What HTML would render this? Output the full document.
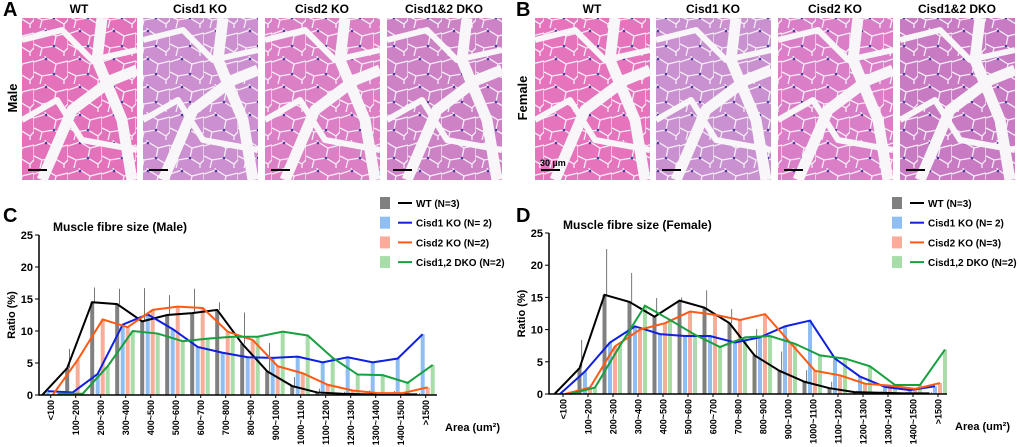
<!DOCTYPE html>
<html><head><meta charset="utf-8"><style>
body{margin:0;background:#fff;font-family:"Liberation Sans",sans-serif}
svg{display:block}
text{font-family:"Liberation Sans",sans-serif;font-weight:bold}
</style></head><body>
<svg id="fig" width="1020" height="447" viewBox="0 0 1020 447" xmlns="http://www.w3.org/2000/svg">
<defs>
<pattern id="cells" patternUnits="userSpaceOnUse" width="34" height="28">
<path d="M0,6 L12,2 L22,8 L34,5 M12,2 L10,-2 M22,8 L20,18 L30,24 L34,20 M20,18 L8,20 L0,16 M8,20 L6,28 M30,24 L30,28 M34,5 L34,20" fill="none" stroke="#f4eef6" stroke-width="1.3"/>
<circle cx="12" cy="3" r="1.3" fill="#4a3aa0"/><circle cx="20" cy="18" r="1.3" fill="#4a3aa0"/>
</pattern>
</defs>
<text x="3" y="16" font-size="20">A</text>
<text x="516" y="16" font-size="20">B</text>
<text x="3" y="222" font-size="20">C</text>
<text x="516" y="222" font-size="20">D</text>
<text transform="translate(17,98) rotate(-90)" text-anchor="middle" font-size="13">Male</text>
<text transform="translate(527,98) rotate(-90)" text-anchor="middle" font-size="13">Female</text>
<g id="imgs"></g>
<g id="chartC"></g>
<g id="chartD"></g>
</svg>
<script>
const categories=["<100","100~200","200~300","300~400","400~500","500~600","600~700","700~800","800~900","900~1000","1000~1100","1100~1200","1200~1300","1300~1400","1400~1500",">1500"];
const maleWT=[0,4.2,14.5,14.2,11.5,12.5,12.8,13.3,8,3.7,1.4,0.4,0.2,0.1,0.1,0.1];
const maleC1=[0.6,0.4,3.3,11,12.6,10.3,7.5,6.6,5.9,5.8,6,5.1,5.9,5.1,5.7,9.5];
const maleC2=[0,5.5,11.8,10.6,13.3,13.8,13.6,9.9,8.6,4.5,3.4,1.6,0.7,0.3,0.3,1.2];
const maleDKO=[0.2,0.2,4.5,10,9.6,8.4,8.8,9.1,9.1,9.9,9.3,5.8,3.2,3.1,1.9,4.7];
const maleWTerr=[0.3,7.2,16.8,16.6,16.7,15.6,16.6,14.5,12.9,8.1,2.8,1,0.5,0.7,0.6,0.3];
const femWT=[0,4,15.4,14.3,12,14.5,13.4,11,6,3.6,1.9,0.9,0.3,0.2,0.1,0.1];
const femC1=[0,3.5,8,10.5,9.3,9,9,8,8.8,10.5,11.4,5.5,2.7,1.1,0.6,1.2];
const femC2=[0,1,7.4,10,11,12.8,12.3,11.5,12.4,8,3.6,2.9,1.6,1.3,0.8,1.7];
const femDKO=[0,1,7.5,13.7,11.5,9.2,7.3,8.8,9,7.8,6,5.5,4.3,1.4,1.4,6.9];
const femWTerr=[0.3,8.4,22.5,18.8,14.9,15,16.1,13.2,10.1,6.6,3.7,1.9,0.5,0.4,0.3,0.3];
const yTicks=[0,5,10,15,20,25];
const NS="http://www.w3.org/2000/svg";
function mk(tag,attrs,parent,txt){const e=document.createElementNS(NS,tag);for(const k in attrs)e.setAttribute(k,attrs[k]);if(txt!==undefined)e.textContent=txt;parent.appendChild(e);return e;}
function svgRoot(){return document.getElementById('fig');}

const panels=[[22,"WT"],[143,"Cisd1 KO"],[265,"Cisd2 KO"],[387,"Cisd1&2 DKO"],[535,"WT"],[656,"Cisd1 KO"],[778,"Cisd2 KO"],[900,"Cisd1&2 DKO"]];
const fills=["#e372bb","#cc8fcf","#dc80c6","#cd82c6","#e674bd","#c991cf","#da7fc7","#c87bc3"];
const imgs=document.getElementById('imgs');
panels.forEach((p,i)=>{
  const g=mk('g',{},imgs);
  
  
  mk('rect',{x:p[0],y:18,width:115,height:162,fill:fills[i]},g);
  mk('rect',{x:p[0],y:18,width:115,height:162,fill:'url(#cells)'},g);
  const x=p[0];
  const cracks=[[[x,40],[x+40,30],[x+70,60],[x+115,50]],[[x+20,180],[x+50,110],[x+90,80],[x+115,70]],[[x,120],[x+35,100],[x+60,140],[x+115,150]],[[x+80,18],[x+75,60],[x+100,120],[x+110,180]]];
  cracks.forEach((c,j)=>mk('polyline',{points:c.map(q=>q.join(',')).join(' '),fill:'none',stroke:'#f8f6f8','stroke-width':(j%2?11:6),'stroke-linejoin':'round'},g));
  mk('line',{x1:x+6,y1:170,x2:x+25,y2:170,stroke:'#000','stroke-width':2},g);
  const t=mk('text',{x:x+57,y:13,'text-anchor':'middle','font-size':12},svgRoot());
  t.textContent=p[1];
  
  
});
const sb=mk('text',{x:540,y:166,'font-size':9,'font-weight':'normal'},imgs,"30 µm");



function chart(gid,ox,y0,y25,firstTick,title,series,err,legend){
  const g=document.getElementById(gid);
  const ys=v=>y0-(v/25)*(y0-y25);
  const xs=i=>firstTick+i*25;
  const offs=[-8.5,-3,2,7];
  const barCol=["#808080","#8fbff2","#f7ad9a","#a8dca8"];
  const lineCol=["#000","#1020e0","#ff5a14","#18a040"];
  series.forEach((s,k)=>{
    s.forEach((v,i)=>{
      const r=mk('rect',{x:xs(i)+offs[k]-2,y:ys(v),width:4,height:y0-ys(v),fill:barCol[k]},g);
      
      
      if(k===0){const e=mk('line',{x1:xs(i)+offs[k]+2.2,x2:xs(i)+offs[k]+2.2,y1:ys(v),y2:ys(err[i]),stroke:'#555','stroke-width':0.8},g);
        
        }
    });
  });
  series.forEach((s,k)=>{
    const l=mk('polyline',{points:s.map((v,i)=>(xs(i)+offs[k])+','+ys(v)).join(' '),fill:'none',stroke:lineCol[k],'stroke-width':2},g);
    
    
  });
  const ax=mk('path',{d:`M${ox},${y25} V${y0} H${ox+398}`,stroke:'#000','stroke-width':1.5,fill:'none'},g);
  
  
  yTicks.forEach(t=>{
    mk('line',{x1:ox-4,x2:ox,y1:ys(t),y2:ys(t),stroke:'#000'},g);
    const tl=mk('text',{x:ox-6,y:ys(t)+4,'text-anchor':'end','font-size':11},g,String(t));
    
    
  });
  categories.forEach((c,i)=>{
    mk('line',{x1:xs(i),x2:xs(i),y1:y0,y2:y0+3,stroke:'#000'},g);
    const tl=mk('text',{transform:`translate(${xs(i)+3.5},${y0+5}) rotate(-90)`,'text-anchor':'end','font-size':9},g,c);
    
    
  });
  const yt=mk('text',{transform:`translate(${ox-24},${(y0+y25)/2}) rotate(-90)`,'text-anchor':'middle','font-size':11},g,"Ratio (%)");
  
  
  const xt=mk('text',{x:ox+406,y:y0+36,'font-size':11},g,"Area (um²)");
  
  
  const tt=mk('text',{x:ox+14,y:y25-4,'font-size':12},g,title);
  
  
  legend.items.forEach((name,k)=>{
    const ly=203+k*19.7;
    const lg=mk('g',{},g);
    
    
    mk('rect',{x:legend.x,y:ly-6,width:10,height:12,fill:barCol[k]},lg);
    mk('line',{x1:legend.x+18,x2:legend.x+32,y1:ly,y2:ly,stroke:lineCol[k],'stroke-width':2},lg);
    mk('text',{x:legend.x+36,y:ly+4,'font-size':10},lg,name);
  });
}
chart('chartC',39,395,235,50.7,"Muscle fibre size (Male)",[maleWT,maleC1,maleC2,maleDKO],maleWTerr,{x:380,items:["WT (N=3)","Cisd1 KO (N= 2)","Cisd2 KO (N=2)","Cisd1,2 DKO (N=2)"]});
chart('chartD',549,394,233,563,"Muscle fibre size (Female)",[femWT,femC1,femC2,femDKO],femWTerr,{x:892,items:["WT (N=3)","Cisd1 KO (N= 2)","Cisd2 KO (N=3)","Cisd1,2 DKO (N=2)"]});
</script>
</body></html>
